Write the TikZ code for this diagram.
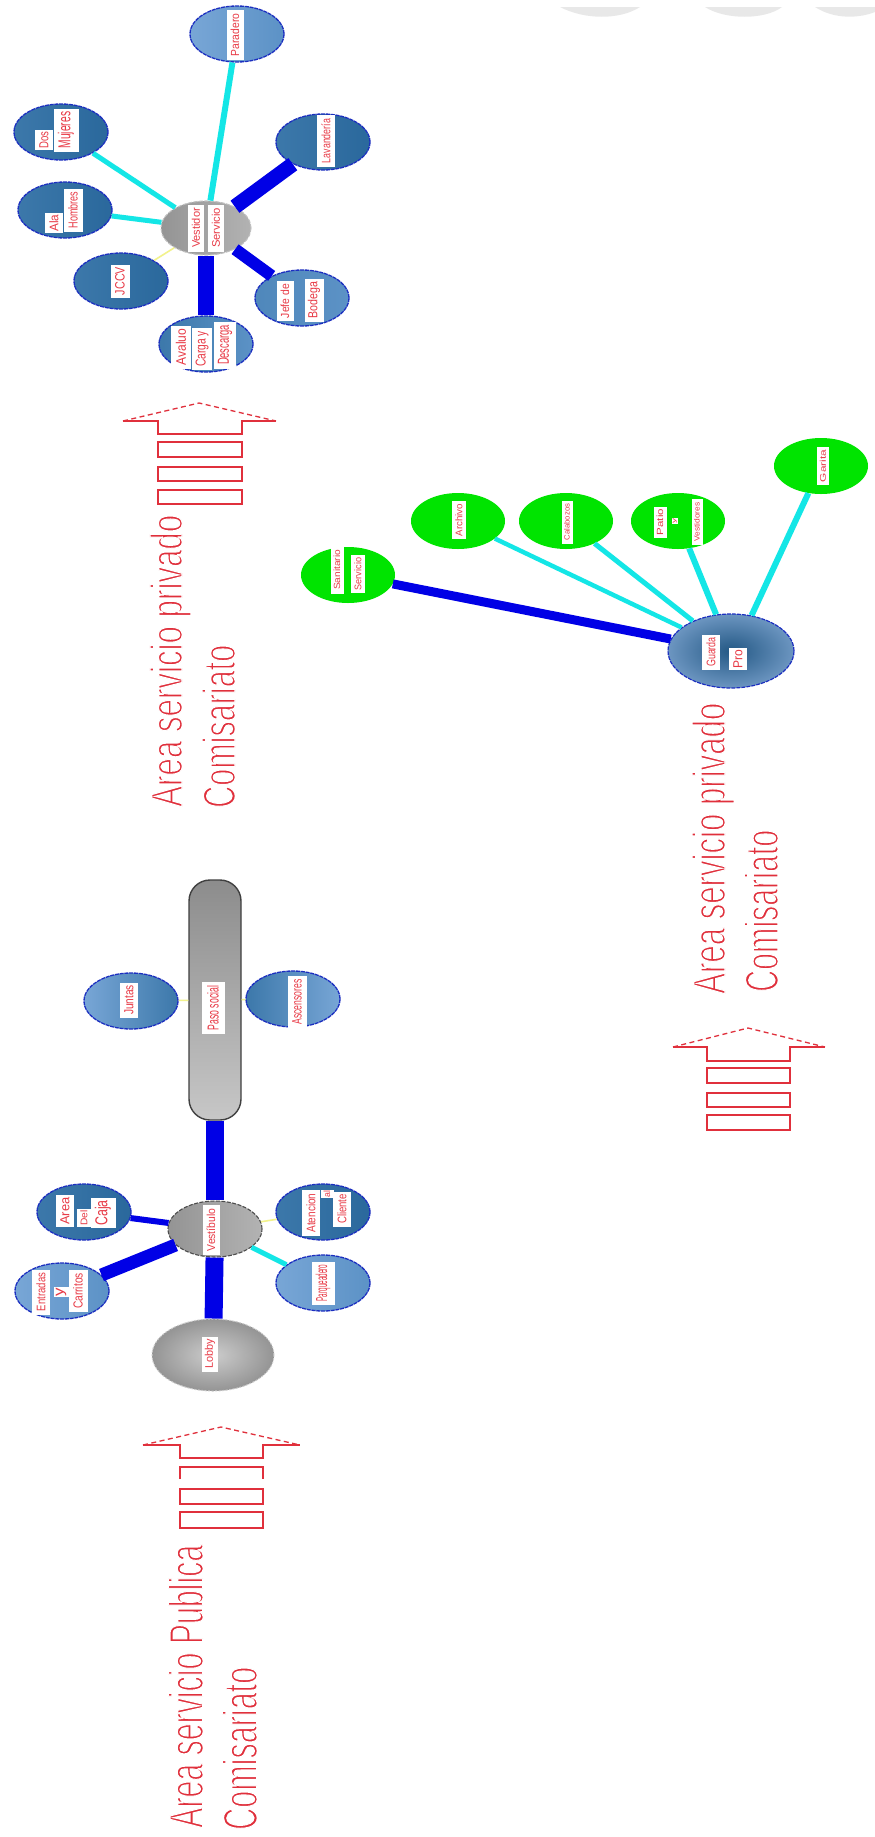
\documentclass[tikz,border=0pt]{standalone}
\usepackage{fontspec}
\setmainfont{Liberation Sans}
\usetikzlibrary{shapes.geometric}
\definecolor{arrowred}{HTML}{E0303C}
\definecolor{textred}{HTML}{E83A46}
\definecolor{lnblue}{HTML}{0000E6}
\definecolor{lncyan}{HTML}{14E6E6}
\definecolor{lnyellow}{HTML}{F2F28C}
\definecolor{edgeblue}{HTML}{1C2FC0}
\definecolor{grn}{HTML}{00E400}
\definecolor{bA}{HTML}{2A689C}
\definecolor{bB}{HTML}{3C78AA}
\definecolor{bC}{HTML}{5C92C6}
\definecolor{bD}{HTML}{78A6D6}
\tikzset{
  x=1pt,y=-1pt,
  oval/.style={ellipse,inner sep=0pt,minimum width=94pt,minimum height=56pt},
  bluedark/.style={oval,draw=edgeblue,line width=1.3pt,dash pattern=on 4pt off 0.8pt,left color=bB,right color=bA},
  bluelight/.style={oval,draw=edgeblue,line width=1.3pt,dash pattern=on 4pt off 0.8pt,left color=bD,right color=bC},
  grayhub/.style={oval,draw=black!70,line width=1.1pt,dash pattern=on 4pt off 1.5pt,left color=black!42,right color=black!30},
  grayball/.style={oval,draw=black!20,line width=1pt,dash pattern=on 2pt off 1.5pt,inner color=black!20,outer color=black!42},
  greenoval/.style={oval,fill=grn},
  bighub/.style={oval,draw=edgeblue,line width=1.2pt,dash pattern=on 4pt off 1pt,inner color=bA!85!black,outer color=bD!90!black},
  lanebox/.style={rectangle,rounded corners=21pt,draw=black!75,line width=1.4pt,top color=black!45,bottom color=black!22,inner sep=0pt},
  thickln/.style={draw=lnblue,line width=#1},
  cyanln/.style={draw=lncyan,line width=#1},
  yellowln/.style={draw=lnyellow,line width=1.6pt},
  labbox/.style={rectangle,fill=white,text=textred,inner sep=0pt,rotate=90},
  bigtext/.style={text=arrowred,inner sep=0pt,rotate=90,anchor=base west},
  arrowline/.style={draw=arrowred,line width=1.5pt},
  arrowdash/.style={draw=arrowred,line width=1.3pt,dash pattern=on 5pt off 3.5pt},
}
\newcommand{\nodelabel}[6]{%
  \node[labbox,minimum width=#4pt,minimum height=#5pt] (#1) at (#2,#3)
    {\resizebox{\dimexpr#4pt*85/100\relax}{\dimexpr#5pt*50/100\relax}{#6}};}
\newcommand{\bigtextnode}[6]{%
  \node[bigtext] (#1) at (#2,#3) {\resizebox{#4pt}{#5pt}{\special{pdf:code q 2 Tr 1 1 1 RG 0.32 w}#6\special{pdf:code Q}}};}
\newcommand{\stripearrow}[9]{%
  \coordinate (#9tip) at (#8,#5);
  \coordinate (#9wl) at (#1,#6);
  \coordinate (#9wr) at (#2,#6);
  \coordinate (#9sl) at (#3,#6);
  \coordinate (#9sr) at (#4,#6);
  \coordinate (#9el) at (#3,#7);
  \coordinate (#9er) at (#4,#7);
  \draw[arrowdash] (#9wl) -- (#9tip) -- (#9wr);
  \draw[arrowline] (#9wl) -- (#9sl) -- (#9el) -- (#9er) -- (#9sr) -- (#9wr);}
\begin{document}
\begin{tikzpicture}
\useasboundingbox (0,0) rectangle (875,1837);
\fill[white] (0,0) rectangle (875,1837);
\fill[black!9] (560,7) .. controls (585,20) and (620,20) .. (640,7) -- cycle;
\fill[black!9] (705,7) .. controls (725,20) and (765,20) .. (782,7) -- cycle;
\fill[black!9] (815,7) .. controls (835,20) and (860,18) .. (875,12) -- (875,7) -- cycle;

\node[grayhub,draw=black!25,minimum width=90pt,minimum height=54pt] (hubA) at (206,228) {};
\node[bluelight] (a1) at (237,34) {};
\node[bluedark] (a2) at (323,142) {};
\node[bluedark] (a3) at (61,132) {};
\node[bluedark] (a4) at (65,210) {};
\node[bluedark] (a5) at (121,281) {};
\node[bluedark,left color=bC!60!bB,right color=bC] (a6) at (302,298) {};
\node[bluelight,left color=bB,right color=bC] (a7) at (206,344) {};
\draw[cyanln=6pt] (a1) -- (hubA);
\draw[thickln=15pt] (a2) -- (hubA);
\draw[cyanln=5pt] (a3) -- (hubA);
\draw[cyanln=5pt] (a4) -- (hubA);
\draw[yellowln] (a5) -- (hubA);
\draw[thickln=12pt] (a6) -- (hubA);
\draw[thickln=16pt] (a7) -- (hubA);

\node[grayhub] (hubB) at (215,1229) {};
\node[bluedark] (b1) at (84,1212) {};
\node[bluelight] (b2) at (62,1291) {};
\node[bluedark] (b3) at (323,1212) {};
\node[bluelight] (b4) at (323,1283) {};
\node[grayball,minimum width=122pt,minimum height=72pt] (b5) at (213,1355) {};
\node[lanebox,minimum width=52pt,minimum height=240pt] (lane) at (215,1000) {};
\node[bluelight,left color=bD,right color=bB] (b6) at (131,1001) {};
\node[bluelight,left color=bB,right color=bD] (b7) at (293,999) {};
\draw[thickln=6pt] (b1) -- (hubB);
\draw[thickln=13pt] (b2) -- (hubB);
\draw[yellowln] (b3) -- (hubB);
\draw[cyanln=5pt] (b4) -- (hubB);
\draw[thickln=18pt] (b5) -- (hubB);
\draw[thickln=18pt] (lane) -- (hubB);
\draw[yellowln] (b6) -- (lane);
\draw[yellowln] (b7) -- (lane);

\node[bighub,minimum width=126pt,minimum height=74pt] (hubC) at (731,651) {};
\node[greenoval] (c1) at (348,575) {};
\node[greenoval] (c2) at (458,521) {};
\node[greenoval] (c3) at (566,521) {};
\node[greenoval] (c4) at (678,521) {};
\node[greenoval] (c5) at (821,466) {};
\draw[thickln=9pt] (c1) -- (hubC);
\draw[cyanln=4.5pt] (c2) -- (hubC);
\draw[cyanln=5pt] (c3) -- (hubC);
\draw[cyanln=6pt] (c4) -- (hubC);
\draw[cyanln=6pt] (c5) -- (hubC.60);

\nodelabel{la1}{235}{35}{50}{17}{Paradero}
\nodelabel{la2}{326}{141}{52}{18}{Lavandería}
\nodelabel{la3a}{44}{140}{20}{18}{Dos}
\nodelabel{la3b}{66}{130}{43}{25}{Mujeres}
\nodelabel{la4a}{54}{223}{20}{18}{Ala}
\nodelabel{la4b}{73}{210}{43}{19}{Hombres}
\nodelabel{la5}{120}{281}{33}{19}{JCCV}
\nodelabel{la6a}{196}{228}{47}{16}{Vestidor}
\nodelabel{la6b}{216}{228}{47}{16}{Servicio}
\nodelabel{la7a}{285}{301}{40}{17}{Jefe de}
\nodelabel{la7b}{314}{300}{43}{19}{Bodega}
\nodelabel{la8a}{181}{347}{43}{20}{Avaluo}
\nodelabel{la8b}{202}{349}{42}{20}{Carga y}
\nodelabel{la8c}{225}{345}{47}{22}{Descarga}
\nodelabel{lb1a}{65}{1211}{32}{18}{Area}
\nodelabel{lb1b}{84}{1218}{18}{14}{Del}
\nodelabel{lb1c}{103}{1213}{30}{25}{Caja}
\nodelabel{lb2a}{41}{1292}{45}{18}{Entradas}
\nodelabel{lb2b}{61}{1292}{10}{15}{y}
\nodelabel{lb2c}{78}{1291}{42}{19}{Carritos}
\nodelabel{lb3}{211}{1230}{50}{17}{Vestíbulo}
\nodelabel{lb4a}{311}{1213}{46}{18}{Atencion}
\nodelabel{lb4b}{327}{1194}{8}{13}{al}
\nodelabel{lb4c}{342}{1209}{35}{18}{Cliente}
\nodelabel{lb5}{323}{1283}{43}{23}{Parqueadero}
\nodelabel{lb6}{210}{1354}{35}{16}{Lobby}
\nodelabel{lb7}{213}{1008}{52}{23}{Paso social}
\nodelabel{lb8}{129}{1000}{35}{18}{Juntas}
\nodelabel{lb9}{297}{1002}{53}{19}{Ascensores}
\nodelabel{lc1a}{337}{570}{47}{13}{Sanitario}
\nodelabel{lc1b}{358}{574}{38}{14}{Servicio}
\nodelabel{lc2}{459}{520}{38}{14}{Archivo}
\nodelabel{lc3}{567}{522}{43}{11}{Calabozos}
\nodelabel{lc4a}{660}{522}{31}{13}{Patio}
\nodelabel{lc4b}{675}{521}{6}{6}{y}
\nodelabel{lc4c}{697}{522}{46}{11}{Vestidores}
\nodelabel{lc5}{823}{466}{38}{12}{Garita}
\nodelabel{lc6a}{711}{652}{35}{18}{Guarda}
\nodelabel{lc6b}{738}{659}{22}{18}{Pro}

\stripearrow{123}{276}{158}{242}{403}{421}{434}{199}{arA}
\draw[arrowline] (158,442) rectangle (242,457);
\draw[arrowline] (158,467) rectangle (242,481);
\draw[arrowline] (158,490) rectangle (242,504);
\stripearrow{673}{825}{707}{790}{1028}{1047}{1061}{748}{arB}
\draw[arrowline] (707,1068) rectangle (790,1083);
\draw[arrowline] (707,1093) rectangle (790,1107);
\draw[arrowline] (707,1115) rectangle (790,1130);
\stripearrow{143}{300}{180}{263}{1427}{1445}{1458}{221}{arC}
\draw[arrowline] (180,1479) -- (180,1467) -- (263,1467) -- (263,1479);
\draw[arrowline] (180,1489) rectangle (263,1504);
\draw[arrowline] (180,1512) rectangle (263,1528);

\bigtextnode{t1}{182}{807}{292}{32}{Area servicio privado}
\bigtextnode{t2}{235}{808}{163}{33}{Comisariato}
\bigtextnode{t3}{725}{994}{291}{33}{Area servicio privado}
\bigtextnode{t4}{778}{992}{162}{34}{Comisariato}
\bigtextnode{t5}{203}{1828}{283}{35}{Area servicio Publica}
\bigtextnode{t6}{257}{1830}{163}{35}{Comisariato}
\end{tikzpicture}
\end{document}
